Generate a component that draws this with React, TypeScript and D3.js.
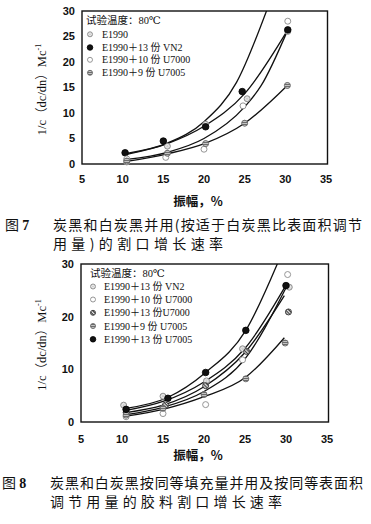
import React from 'react';
import * as d3 from 'd3';

type Pt = [number, number];

// ---------- shared axis data ----------
const xTickValues = [5, 10, 15, 20, 25, 30, 35];
const fig7YTickValues = [0, 5, 10, 15, 20, 25, 30];
const fig8YTickValues = [0, 10, 20, 30];

const yAxisTitle = '1/c（dc/dn）Mc';
const xAxisTitle = '振幅，%';
const legendTitle = '试验温度：80℃';

// ---------- Figure 7 data ----------
const fig7Labels = ['E1990', 'E1990＋13 份 VN2', 'E1990＋10 份 U7000', 'E1990＋9 份 U7005'];
const fig7Kinds = ['lightgray', 'black', 'open', 'hstripe'];
const fig7E1990: Pt[] = [[10.5, 0.4], [15.5, 3.5], [20.2, 7.8], [25.3, 12.8], [30.3, 26.0]];
const fig7VN2: Pt[] = [[10.3, 2.2], [15.0, 4.5], [20.2, 7.3], [24.7, 14.2], [30.3, 26.3]];
const fig7U7000: Pt[] = [[10.5, 1.0], [15.3, 1.3], [20.0, 2.9], [24.8, 11.4], [30.3, 28.0]];
const fig7U7005: Pt[] = [[10.5, 0.6], [15.5, 2.1], [20.2, 4.0], [25.0, 8.0], [30.25, 15.4]];
// fitted curves
const fig7FitSteep: Pt[] = [[10.5, 2.1], [15.5, 4.1], [20, 8.3], [24, 16.0], [27.8, 30.5]];
const fig7FitVN2: Pt[] = [[10.5, 1.9], [15.5, 4.0], [20, 7.4], [25, 13.8], [30.3, 26.3]];
const fig7FitMid: Pt[] = [[10.5, 0.9], [15.5, 2.3], [20, 5.0], [25, 11.2], [27, 15.3], [30.3, 26.3]];
const fig7FitU7005: Pt[] = [[10.5, 0.5], [15.5, 2.0], [20.2, 4.1], [25, 8.0], [30.25, 15.4]];

const fig7Caption1 = '炭黑和白炭黑并用(按适于白炭黑比表面积调节';
const fig7Caption2 = '用量)的割口增长速率';

// ---------- Figure 8 data ----------
const fig8Labels = ['E1990＋13 份 VN2', 'E1990＋10 份 U7000', 'E1990＋13 份U7000', 'E1990＋9 份 U7005', 'E1990＋13 份 U7005'];
const fig8Kinds = ['lightgray', 'open', 'diag', 'hstripe', 'black'];
const fig8VN2: Pt[] = [[10.2, 3.2], [15.0, 4.9], [20.3, 7.8], [24.7, 13.9], [30.4, 25.6]];
const fig8U7000a: Pt[] = [[10.5, 1.0], [15.0, 1.6], [20.2, 3.3], [24.7, 11.8], [30.2, 28.0]];
const fig8U7000b: Pt[] = [[10.5, 1.8], [15.3, 3.2], [20.2, 6.9], [25.2, 13.4], [30.3, 20.9]];
const fig8U7005a: Pt[] = [[10.5, 1.3], [15.0, 2.6], [20.0, 5.2], [25.1, 8.2], [29.9, 15.0]];
const fig8U7005b: Pt[] = [[10.5, 2.4], [15.6, 4.5], [20.2, 9.4], [25.1, 17.4], [30.0, 25.9]];
const fig8FitVN2: Pt[] = [[10.5, 2.2], [15, 3.9], [20, 7.6], [25, 14.0], [30.0, 26.0]];
const fig8FitU7000a: Pt[] = [[10.5, 1.4], [15, 2.8], [20, 5.8], [25, 12.0], [30.0, 25.5]];
const fig8FitU7000b: Pt[] = [[10.5, 1.8], [15, 3.2], [20, 6.7], [25, 13.2], [29.8, 24.0]];
const fig8FitU7005a: Pt[] = [[10.5, 1.1], [15, 2.4], [20, 4.8], [25, 8.4], [29.8, 16.0]];
const fig8FitU7005b: Pt[] = [[10.5, 2.6], [15.5, 4.6], [20.2, 9.4], [25.1, 17.4], [29.1, 30.6]];

const fig8Caption1 = '炭黑和白炭黑按同等填充量并用及按同等表面积';
const fig8Caption2 = '调节用量的胶料割口增长速率';

const serif = '"Liberation Serif", "DejaVu Serif", "Noto Sans CJK SC", serif';
const cjk = '"Noto Sans CJK SC", "Liberation Serif", serif';
const sans = '"Liberation Sans", Arial, sans-serif';

function Marker({ kind, cx, cy, r = 3.0 }: { kind: string; cx: number; cy: number; r?: number }) {
  if (kind === 'black') return <circle cx={cx} cy={cy} r={r + 0.3} fill="#111" stroke="#000" strokeWidth={0.8} />;
  if (kind === 'open') return <circle cx={cx} cy={cy} r={r} fill="#fff" stroke="#8a8a8a" strokeWidth={0.9} />;
  if (kind === 'hstripe') return <circle cx={cx} cy={cy} r={r} fill="url(#hstripe)" stroke="#666" strokeWidth={0.9} />;
  if (kind === 'diag') return <circle cx={cx} cy={cy} r={r} fill="url(#diag)" stroke="#333" strokeWidth={0.9} />;
  return (
    <g>
      <circle cx={cx} cy={cy} r={r} fill="#cfcfcf" stroke="#8a8a8a" strokeWidth={0.9} />
      <path d={`M${cx},${cy - r * 0.65}L${cx + r * 0.65},${cy}L${cx},${cy + r * 0.65}L${cx - r * 0.65},${cy}Z`} fill="none" stroke="#f4f4f4" strokeWidth={0.8} />
    </g>
  );
}

interface ChartProps {
  id: string;
  left: number; right: number; top: number; bottom: number;
  yTicks: number[];
  series: Pt[][];
  kinds: string[];
  labels: string[];
  fits: Pt[][];
  legendTitleY: number;
  legendRowYs: number[];
  legendSymX: number;
  legendTextX: number;
  legendTitleX: number;
  xLabelY: number;
  xTitleY: number;
  yTitleX: number;
}

function Chart(p: ChartProps) {
  const x = d3.scaleLinear().domain([5, 35]).range([p.left, p.right]);
  const y = d3.scaleLinear().domain([0, 30]).range([p.bottom, p.top]);
  const line = d3.line<Pt>().x(d => x(d[0])).y(d => y(d[1])).curve(d3.curveMonotoneX);
  const clipId = `clip-${p.id}`;
  return (
    <g>
      <defs>
        <clipPath id={clipId}>
          <rect x={p.left} y={p.top} width={p.right - p.left} height={p.bottom - p.top} />
        </clipPath>
      </defs>
      <rect x={p.left} y={p.top} width={p.right - p.left + 1.5} height={p.bottom - p.top} fill="none" stroke="#111" strokeWidth={1.4} />
      {p.yTicks.map(t => (
        <text key={`y${t}`} x={p.left - 7} y={y(t)} dy="0.35em" textAnchor="end" fontFamily={sans} fontWeight={700} fontSize={11} fill="#111">{t}</text>
      ))}
      {xTickValues.map(t => (
        <text key={`x${t}`} x={x(t)} y={p.xLabelY} textAnchor="middle" fontFamily={sans} fontWeight={700} fontSize={11} fill="#111">{t}</text>
      ))}
      <text x={(p.left + p.right) / 2 - 6} y={p.xTitleY} textAnchor="middle" fontFamily={cjk} fontWeight={700} fontSize={12.5} fill="#111">{xAxisTitle}</text>
      <text transform={`translate(${p.yTitleX},${(p.top + p.bottom) / 2 + 2}) rotate(-90)`} textAnchor="middle" fontFamily={serif} fontSize={12.5} fill="#111">
        {yAxisTitle}<tspan dy="-5" fontSize={8}>-1</tspan>
      </text>
      <g clipPath={`url(#${clipId})`}>
        {p.fits.map((f, i) => (
          <path key={`f${i}`} d={line(f) || ''} fill="none" stroke="#111" strokeWidth={1.3} />
        ))}
      </g>
      {p.series.map((s, i) => (
        <g key={`s${i}`}>
          {s.map((d, j) => <Marker key={j} kind={p.kinds[i]} cx={x(d[0])} cy={y(d[1])} />)}
        </g>
      ))}
      <text x={p.legendTitleX} y={p.legendTitleY} dy="0.35em" fontFamily={serif} fontSize={10.5} fill="#111">{legendTitle}</text>
      {p.labels.map((l, i) => (
        <g key={`l${i}`}>
          <Marker kind={p.kinds[i]} cx={p.legendSymX} cy={p.legendRowYs[i]} r={2.5} />
          <text x={p.legendTextX} y={p.legendRowYs[i]} dy="0.35em" fontFamily={serif} fontSize={10} fill="#111">{l}</text>
        </g>
      ))}
    </g>
  );
}

function Caption({ num, numX, line1, line2, x0, y1, y2, w1, w2 }: { num: string; numX: number; line1: string; line2: string; x0: number; y1: number; y2: number; w1: number; w2: number }) {
  return (
    <g fontFamily={cjk} fontSize={14} fill="#111">
      <text x={numX} y={y1}>图 <tspan fontFamily={serif} fontWeight={700}>{num}</tspan></text>
      <text x={x0} y={y1} textLength={w1} lengthAdjust="spacing">{line1}</text>
      <text x={x0} y={y2} textLength={w2} lengthAdjust="spacing">{line2}</text>
    </g>
  );
}

export default function App() {
  return (
    <svg width={371} height={524} style={{ position: 'absolute', left: 0, top: 0, background: '#fff' }}>
      <defs>
        <pattern id="hstripe" width={3} height={2} patternUnits="userSpaceOnUse">
          <rect width={3} height={2} fill="#c4c4c4" />
          <line x1={0} y1={0.5} x2={3} y2={0.5} stroke="#555" strokeWidth={0.8} />
        </pattern>
        <pattern id="diag" width={2.4} height={2.4} patternUnits="userSpaceOnUse" patternTransform="rotate(45)">
          <rect width={2.4} height={2.4} fill="#e8e8e8" />
          <line x1={0} y1={0.6} x2={2.4} y2={0.6} stroke="#222" strokeWidth={1} />
        </pattern>
      </defs>
      <rect width={371} height={524} fill="#fff" />
      <Chart
        id="f7" left={82} right={326} top={11} bottom={164}
        yTicks={fig7YTickValues}
        series={[fig7E1990, fig7VN2, fig7U7000, fig7U7005]}
        kinds={fig7Kinds} labels={fig7Labels}
        fits={[fig7FitSteep, fig7FitVN2, fig7FitMid, fig7FitU7005]}
        legendTitleX={86} legendTitleY={20} legendRowYs={[34.3, 47.5, 59.8, 72.8]}
        legendSymX={90} legendTextX={102}
        xLabelY={183} xTitleY={206} yTitleX={46}
      />
      <Caption num="7" numX={5} line1={fig7Caption1} line2={fig7Caption2} x0={53} y1={229.5} y2={248.5} w1={309} w2={170} />
      <Chart
        id="f8" left={81} right={327} top={264} bottom={422}
        yTicks={fig8YTickValues}
        series={[fig8VN2, fig8U7000a, fig8U7000b, fig8U7005a, fig8U7005b]}
        kinds={fig8Kinds} labels={fig8Labels}
        fits={[fig8FitVN2, fig8FitU7000a, fig8FitU7000b, fig8FitU7005a, fig8FitU7005b]}
        legendTitleX={90} legendTitleY={273.5} legendRowYs={[286.5, 299.5, 312.8, 326, 339.3]}
        legendSymX={93} legendTextX={104}
        xLabelY={443} xTitleY={460} yTitleX={46}
      />
      <Caption num="8" numX={2} line1={fig8Caption1} line2={fig8Caption2} x0={50} y1={488} y2={507} w1={313} w2={232} />
    </svg>
  );
}
